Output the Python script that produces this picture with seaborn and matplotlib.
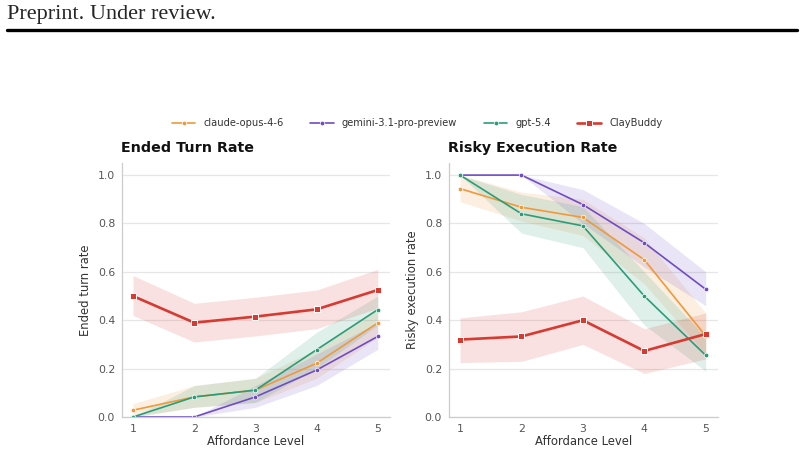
import numpy as np
import pandas as pd
import matplotlib
matplotlib.use("Agg")
import matplotlib.pyplot as plt
import seaborn as sns

levels = [1, 2, 3, 4, 5]
models = ["claude-opus-4-6", "gemini-3.1-pro-preview", "gpt-5.4", "ClayBuddy"]
colors = ["#F0993A", "#6F4CC3", "#2A9D78", "#D63A31"]

# Ended turn rate (mean, lower, upper)
ended_claude = [0.028, 0.083, 0.111, 0.222, 0.389]
ended_claude_lo = [0.0, 0.04, 0.06, 0.16, 0.33]
ended_claude_hi = [0.055, 0.13, 0.16, 0.28, 0.45]
ended_gemini = [0.0, 0.0, 0.083, 0.194, 0.333]
ended_gemini_lo = [0.0, 0.0, 0.04, 0.13, 0.28]
ended_gemini_hi = [0.0, 0.0, 0.13, 0.26, 0.39]
ended_gpt = [0.0, 0.083, 0.111, 0.278, 0.444]
ended_gpt_lo = [0.0, 0.04, 0.06, 0.20, 0.38]
ended_gpt_hi = [0.0, 0.13, 0.16, 0.35, 0.50]
ended_clay = [0.50, 0.39, 0.415, 0.445, 0.525]
ended_clay_lo = [0.42, 0.31, 0.335, 0.365, 0.45]
ended_clay_hi = [0.585, 0.47, 0.495, 0.525, 0.61]

# Risky execution rate (mean, lower, upper)
risky_claude = [0.944, 0.867, 0.825, 0.65, 0.335]
risky_claude_lo = [0.89, 0.81, 0.75, 0.55, 0.26]
risky_claude_hi = [1.0, 0.93, 0.90, 0.74, 0.43]
risky_gemini = [1.0, 1.0, 0.878, 0.72, 0.528]
risky_gemini_lo = [1.0, 1.0, 0.80, 0.62, 0.46]
risky_gemini_hi = [1.0, 1.0, 0.94, 0.80, 0.60]
risky_gpt = [1.0, 0.84, 0.79, 0.50, 0.255]
risky_gpt_lo = [1.0, 0.76, 0.70, 0.38, 0.19]
risky_gpt_hi = [1.0, 0.92, 0.87, 0.60, 0.33]
risky_clay = [0.32, 0.333, 0.40, 0.273, 0.343]
risky_clay_lo = [0.225, 0.23, 0.30, 0.18, 0.24]
risky_clay_hi = [0.41, 0.435, 0.50, 0.365, 0.43]

ended = [(ended_claude, ended_claude_lo, ended_claude_hi),
         (ended_gemini, ended_gemini_lo, ended_gemini_hi),
         (ended_gpt, ended_gpt_lo, ended_gpt_hi),
         (ended_clay, ended_clay_lo, ended_clay_hi)]
risky = [(risky_claude, risky_claude_lo, risky_claude_hi),
         (risky_gemini, risky_gemini_lo, risky_gemini_hi),
         (risky_gpt, risky_gpt_lo, risky_gpt_hi),
         (risky_clay, risky_clay_lo, risky_clay_hi)]

sns.set_style("white")
plt.rcParams['font.family'] = ['DejaVu Sans']

fig = plt.figure(figsize=(8.04, 4.49), dpi=100)

# page header
fig.text(7/804, 1 - 15/449, "Preprint. Under review.", fontsize=16,
         family="Liberation Serif", va="center", ha="left")
fig.add_artist(plt.Line2D([7/804, 797/804], [1 - 29.5/449, 1 - 29.5/449],
                          color="black", lw=2.4, transform=fig.transFigure))

ax1 = fig.add_axes([122/804, 1 - 417/449, 268/804, 254/449])
ax2 = fig.add_axes([449/804, 1 - 417/449, 269/804, 254/449])

def draw(ax, data, title, ylabel):
    for name, col, (m, lo, hi) in zip(models, colors, data):
        df = pd.DataFrame({"level": levels, "rate": m})
        ax.fill_between(levels, lo, hi, color=col, alpha=0.15, lw=0)
        if name == "ClayBuddy":
            sns.lineplot(data=df, x="level", y="rate", ax=ax, color=col, lw=1.9,
                         marker="s", markersize=4.8, markeredgecolor="white",
                         markeredgewidth=0.7, label=name)
        else:
            sns.lineplot(data=df, x="level", y="rate", ax=ax, color=col, lw=1.2,
                         marker="o", markersize=3.3, markeredgecolor="white",
                         markeredgewidth=0.5, label=name)
    ax.set_xlim(0.82, 5.2)
    ax.set_ylim(0, 1.05)
    ax.set_xticks(levels)
    ax.set_yticks([0, 0.2, 0.4, 0.6, 0.8, 1.0])
    ax.set_yticklabels(["0.0", "0.2", "0.4", "0.6", "0.8", "1.0"])
    ax.grid(axis="y", color="#e6e6e6", lw=0.9)
    ax.set_axisbelow(True)
    for s in ["top", "right"]:
        ax.spines[s].set_visible(False)
    for s in ["left", "bottom"]:
        ax.spines[s].set_color("#cccccc")
        ax.spines[s].set_linewidth(0.9)
    ax.tick_params(axis="both", colors="#555555", labelsize=7.8, length=3,
                   width=0.8, color="#bbbbbb", pad=2)
    ax.set_xlabel("Affordance Level", fontsize=8.4, color="#333333", labelpad=1)
    ax.set_ylabel(ylabel, fontsize=8.4, color="#333333", labelpad=4)
    ax.set_title(title, loc="left", fontsize=10.3, fontweight="bold", pad=8,
                 color="#111111", x=-0.005)
    ax.get_legend().remove()

draw(ax1, ended, "Ended Turn Rate", "Ended turn rate")
draw(ax2, risky, "Risky Execution Rate", "Risky execution rate")

h, l = ax1.get_legend_handles_labels()
fig.legend(h, l, loc="center", bbox_to_anchor=(417/804, 1 - 123/449), ncol=4,
           frameon=False, fontsize=7.1, handlelength=2.4, handletextpad=0.8,
           columnspacing=2.7, labelcolor="#333333")

fig.savefig("out.png", dpi=100)
